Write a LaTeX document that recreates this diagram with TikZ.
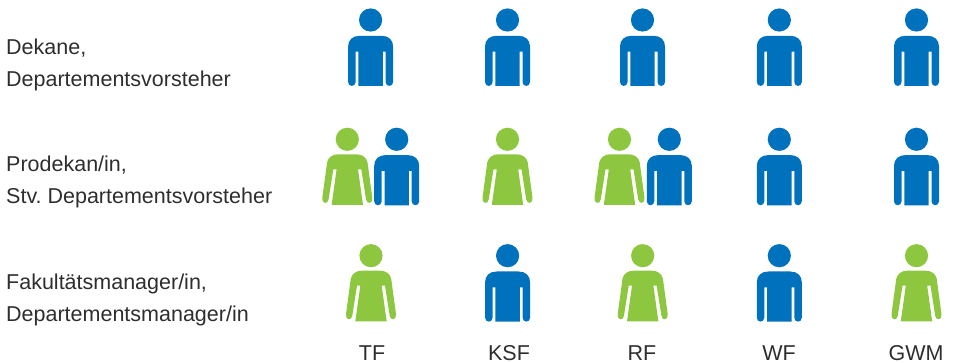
\documentclass[tikz,border=0pt]{standalone}
\usepackage{fontspec}
\setmainfont{Liberation Sans}
\definecolor{manblue}{HTML}{0071BC}
\definecolor{womangreen}{HTML}{8DC63F}
\definecolor{txt}{HTML}{2E2E2E}
\tikzset{
  x=1pt,y=-1pt,
  lab/.style={anchor=base west,inner sep=0pt,text=txt,font=\frenchspacing\fontsize{21.5}{21.5}\selectfont},
  col/.style={anchor=base,inner sep=0pt,text=txt,font=\fontsize{21.5}{21.5}\selectfont},
  man/.pic={
    \fill[manblue] (0,0) circle (11.6);
    \fill[manblue] (-22.5,26.5) .. controls (-22.5,20) and (-18,15.8) .. (-11,15.8) -- (11,15.8)
      .. controls (18,15.8) and (22.5,20) .. (22.5,26.5) -- (22.5,62)
      .. controls (22.5,67.2) and (15,67.2) .. (15,62) -- (15,31.7) -- (12.2,31.7) -- (12.2,66)
      -- (-12.2,66) -- (-12.2,31.7) -- (-15,31.7) -- (-15,62)
      .. controls (-15,67.2) and (-22.5,67.2) .. (-22.5,62) -- cycle;
  },
  woman/.pic={
    \fill[womangreen] (0,0) circle (11.6);
    \fill[womangreen] (-20.2,23) .. controls (-19,18) and (-15,15) .. (-9,15) -- (9,15)
      .. controls (15,15) and (19,18) .. (20.2,23) -- (25,58.5)
      .. controls (25.8,64.5) and (19.4,65.5) .. (18.7,60) -- (14,30) -- (10.7,30) -- (15.7,65.7)
      -- (-15.7,65.7) -- (-10.7,30) -- (-14,30) -- (-18.7,60)
      .. controls (-19.4,65.5) and (-25.8,64.5) .. (-25,58.5) -- cycle;
  }
}
\begin{document}
\begin{tikzpicture}
\useasboundingbox (0,0) rectangle (954,363);
\node[lab] (l1a) at (6,55) {Dekane,};
\node[lab] (l1b) at (6,87) {Departementsvorsteher};
\node[lab] (l2a) at (6,172) {Prodekan/in,};
\node[lab] (l2b) at (6,204) {Stv. Departementsvorsteher};
\node[lab] (l3a) at (6,290) {Fakultätsmanager/in,};
\node[lab] (l3b) at (6,322) {Departementsmanager/in};
\node[col] (c1) at (372,361) {TF};
\node[col] (c2) at (509,361) {KSF};
\node[col] (c3) at (642,361) {RF};
\node[col] (c4) at (779,361) {WF};
\node[col] (c5) at (916,361) {GWM};
\pic at (370.6,20) {man};
\pic at (507.5,20) {man};
\pic at (642.5,20) {man};
\pic at (779.3,20) {man};
\pic at (916.5,20) {man};
\pic at (347.3,139.3) {woman};
\pic at (396.7,139.3) {man};
\pic at (507.5,139.3) {woman};
\pic at (619.5,139.3) {woman};
\pic at (669.3,139.3) {man};
\pic at (779.3,139.3) {man};
\pic at (916.5,139.3) {man};
\pic at (371,255.7) {woman};
\pic at (507.6,255.7) {man};
\pic at (642.7,255.7) {woman};
\pic at (779.3,255.7) {man};
\pic at (916.5,255.7) {woman};
\end{tikzpicture}
\end{document}
